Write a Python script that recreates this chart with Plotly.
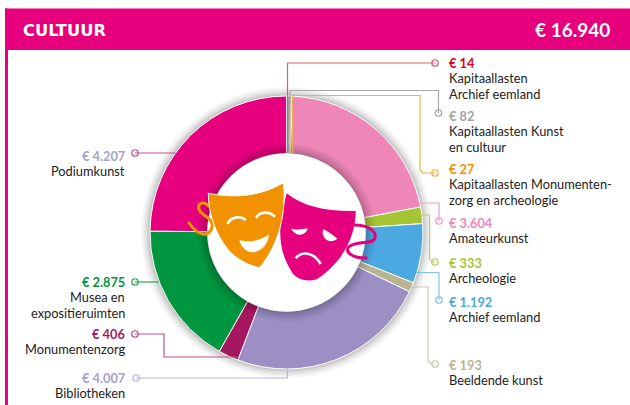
import plotly.graph_objects as go

# --- data -----------------------------------------------------------------
categories = ["Kapitaallasten Archief eemland", "Kapitaallasten Kunst en cultuur",
              "Kapitaallasten Monumentenzorg en archeologie", "Amateurkunst", "Archeologie",
              "Archief eemland", "Beeldende kunst", "Bibliotheken", "Monumentenzorg",
              "Musea en expositieruimten", "Podiumkunst"]
values = [14, 82, 27, 3604, 333, 1192, 193, 4007, 406, 2875, 4207]
slice_colors = ["#E2001A", "#A3A3A3", "#F39200", "#EE86B7", "#A5C534", "#4BA8E0",
                "#B9B593", "#9B8FC4", "#A5185F", "#009640", "#E6007E"]
value_labels = ["€ 14", "€ 82", "€ 27", "€ 3.604", "€ 333", "€ 1.192", "€ 193",
                "€ 4.007", "€ 406", "€ 2.875", "€ 4.207"]
value_colors = ["#E2001A", "#A3A3A3", "#F39200", "#EE86B7", "#A5C534", "#4BA8E0",
                "#B9B593", "#A5A3CE", "#A5185F", "#009640", "#A5A3CE"]
line_colors = ["#D9616F", "#A8A8A8", "#F5AE45", "#EE9CC4", "#B9D265", "#7CC3EA",
               "#CBC8AE", "#BDB6DA", "#C0508A", "#2FA660", "#C8559C"]
label_lines = [["Kapitaallasten", "Archief eemland"], ["Kapitaallasten Kunst", "en cultuur"],
               ["Kapitaallasten Monumenten-", "zorg en archeologie"], ["Amateurkunst"], ["Archeologie"],
               ["Archief eemland"], ["Beeldende kunst"], ["Bibliotheken"], ["Monumentenzorg"],
               ["Musea en", "expositieruimten"], ["Podiumkunst"]]
title_left = "CULTUUR"
title_right = "€ 16.940"

# --- layout helpers (pixel space of the 630x405 page) ---------------------
W, H = 630, 405
CX, CY, R_OUT, R_IN = 286.5, 232.5, 136.5, 79
PINK = "#E6007E"
FONT = "Lato"
TEXT = "#222222"

leaders = [
    [(435, 63), (287.5, 63), (287.5, 153)],
    [(438.5, 113), (438.5, 90.5), (290, 90.5), (290, 153)],
    [(435, 173), (423, 173), (420, 170), (420, 95.5), (292.5, 95.5), (292.5, 153)],
    [(439, 221), (439, 203), (418, 203)],
    [(435, 262), (432, 262), (429.5, 259), (429.5, 215), (420, 215)],
    [(439, 300), (439, 272.5), (416, 272.5)],
    [(435, 364), (431, 364), (428, 361), (428, 287), (411, 287)],
    [(136, 378), (287.5, 378), (287.5, 368)],
    [(135, 334), (164, 334), (164, 357), (237, 357)],
    [(135, 282), (159, 282)],
    [(135, 153), (176, 153)],
]
text_pos = [("r", 63), ("r", 116), ("r", 169), ("r", 223), ("r", 263), ("r", 302), ("r", 365),
            ("l", 378), ("l", 334), ("l", 282), ("l", 156)]

def circle(r, cx=CX, cy=CY, **kw):
    return dict(type="circle", xref="x", yref="y", x0=cx-r, x1=cx+r, y0=cy-r, y1=cy+r, **kw)

shapes = [
    dict(type="rect", xref="x", yref="y", x0=5, x1=630, y0=8.5, y1=50, fillcolor=PINK, line_width=0, layer="below"),
    dict(type="rect", xref="x", yref="y", x0=5, x1=8, y0=8.5, y1=405, fillcolor=PINK, line_width=0, layer="below"),
]
# soft glow behind the ring
for d in (9, 7, 5.5, 4, 3, 2, 1):
    shapes.append(circle(R_OUT + d, fillcolor="rgba(0,0,0,0.035)", line_width=0, layer="below"))
# soft shadow of the centre disc on the ring
for d in (10, 8, 6, 4.5, 3, 2, 1):
    shapes.append(circle(R_IN + d, fillcolor="rgba(0,0,0,0.035)", line_width=0, layer="above"))
shapes.append(circle(R_IN, fillcolor="white", line_width=0, layer="above"))

for pts, col in zip(leaders, line_colors):
    path = "M" + " L".join(f"{x},{y}" for x, y in pts)
    shapes.append(dict(type="path", xref="x", yref="y", path=path, line=dict(color=col, width=1.2), layer="above"))

def mp(x, y):
    return f"{180 + x/3:.1f},{160 + y/3:.1f}"

def poly(cmds):
    out = []
    for c, pts in cmds:
        out.append(c + " ".join(mp(*p) for p in pts))
    return " ".join(out)

def add_fill(cmds, color, line=None):
    shapes.append(dict(type="path", xref="x", yref="y", path=poly(cmds) + " Z", fillcolor=color,
                       line=dict(color=line or color, width=1 if line else 0), layer="above"))

def add_stroke(cmds, color, width):
    shapes.append(dict(type="path", xref="x", yref="y", path=poly(cmds), line=dict(color=color, width=width), layer="above"))

ORANGE = "#F39200"
# strap, orange mask
add_stroke([("M", [(88, 140)]), ("C", [(70, 120), (50, 130), (58, 150)]),
            ("C", [(68, 170), (105, 175), (95, 205)]), ("C", [(85, 235), (50, 225), (25, 185)])], ORANGE, 3)
# pink mask (behind)
add_fill([("M", [(320, 100)]), ("C", [(370, 140), (440, 155), (527, 153)]),
          ("C", [(528, 210), (500, 300), (410, 358)]), ("C", [(390, 365), (350, 362), (335, 335)]),
          ("C", [(295, 270), (290, 210), (320, 100)])], PINK)
# orange mask
add_fill([("M", [(85, 100)]), ("C", [(150, 112), (230, 115), (310, 68)]),
          ("C", [(320, 150), (300, 250), (240, 322)]), ("C", [(225, 325), (170, 300), (145, 270)]),
          ("C", [(105, 220), (85, 160), (85, 100)])], ORANGE, "white")
# orange mask: eyes and mouth
add_stroke([("M", [(143, 192)]), ("C", [(150, 172), (180, 165), (197, 180)])], "white", 2.6)
add_stroke([("M", [(228, 173)]), ("C", [(240, 155), (265, 152), (285, 170)])], "white", 2.6)
add_fill([("M", [(178, 240)]), ("C", [(210, 250), (245, 240), (267, 223)]),
          ("C", [(265, 260), (235, 280), (210, 276)]), ("C", [(195, 272), (182, 258), (178, 240)])], "white")
# pink mask: eyes and mouth
add_fill([("M", [(333, 206)]), ("C", [(345, 210), (365, 208), (383, 205)]),
          ("C", [(380, 225), (350, 235), (333, 206)])], "white")
add_fill([("M", [(430, 207)]), ("C", [(445, 215), (460, 225), (472, 236)]),
          ("C", [(450, 255), (420, 235), (430, 207)])], "white")
add_stroke([("M", [(347, 295)]), ("C", [(365, 272), (400, 275), (422, 312)])], "white", 2.6)
# strap, pink mask
add_stroke([("M", [(522, 195)]), ("C", [(560, 195), (590, 210), (585, 235)]),
            ("C", [(578, 255), (530, 240), (505, 262)]), ("C", [(495, 280), (525, 297), (562, 293)])], PINK, 3)

annotations = [
    dict(x=22, y=30, text=f"<b>{title_left}</b>", xanchor="left", font=dict(family="DejaVu Sans", size=16.3, color="white")),
    dict(x=611, y=29, text=f"<b>{title_right}</b>", xanchor="right", font=dict(family=FONT, size=19, color="white")),
]
for (side, y), vl, vc, lines in zip(text_pos, value_labels, value_colors, label_lines):
    xa, anchor = (448, "left") if side == "r" else (125.5, "right")
    annotations.append(dict(x=xa, y=y, text=f"<b>{vl}</b>", xanchor=anchor, font=dict(family=FONT, size=12.8, color=vc)))
    for i, ln in enumerate(lines):
        annotations.append(dict(x=xa, y=y + 15 + 15.6*i, text=ln, xanchor=anchor, font=dict(family=FONT, size=12.8, color=TEXT)))
for a in annotations:
    a.update(xref="x", yref="y", yanchor="middle", showarrow=False, align=a["xanchor"], borderpad=0)

fig = go.Figure()
fig.add_trace(go.Pie(labels=categories, values=values, sort=False, direction="clockwise", rotation=0,
                     hole=R_IN/R_OUT, textinfo="none", showlegend=False,
                     marker=dict(colors=slice_colors, line=dict(color="white", width=1)),
                     domain=dict(x=[(CX-R_OUT)/W, (CX+R_OUT)/W], y=[1-(CY+R_OUT)/H, 1-(CY-R_OUT)/H])))
# open end-points of the leader lines
fig.add_trace(go.Scatter(x=[p[0][0] for p in leaders], y=[p[0][1] for p in leaders], mode="markers",
                         hoverinfo="skip", showlegend=False,
                         marker=dict(size=6.5, color="white", line=dict(color=line_colors, width=1.2))))
fig.update_layout(
    width=W, height=H, margin=dict(l=0, r=0, t=0, b=0), paper_bgcolor="white", plot_bgcolor="rgba(0,0,0,0)",
    xaxis=dict(range=[0, W], visible=False, domain=[0, 1], fixedrange=True),
    yaxis=dict(range=[H, 0], visible=False, domain=[0, 1], fixedrange=True),
    shapes=shapes, annotations=annotations, showlegend=False,
)
fig.write_html("out.html", config=dict(displayModeBar=False),
               post_script="document.body.style.margin='0';document.body.style.overflow='hidden';")
